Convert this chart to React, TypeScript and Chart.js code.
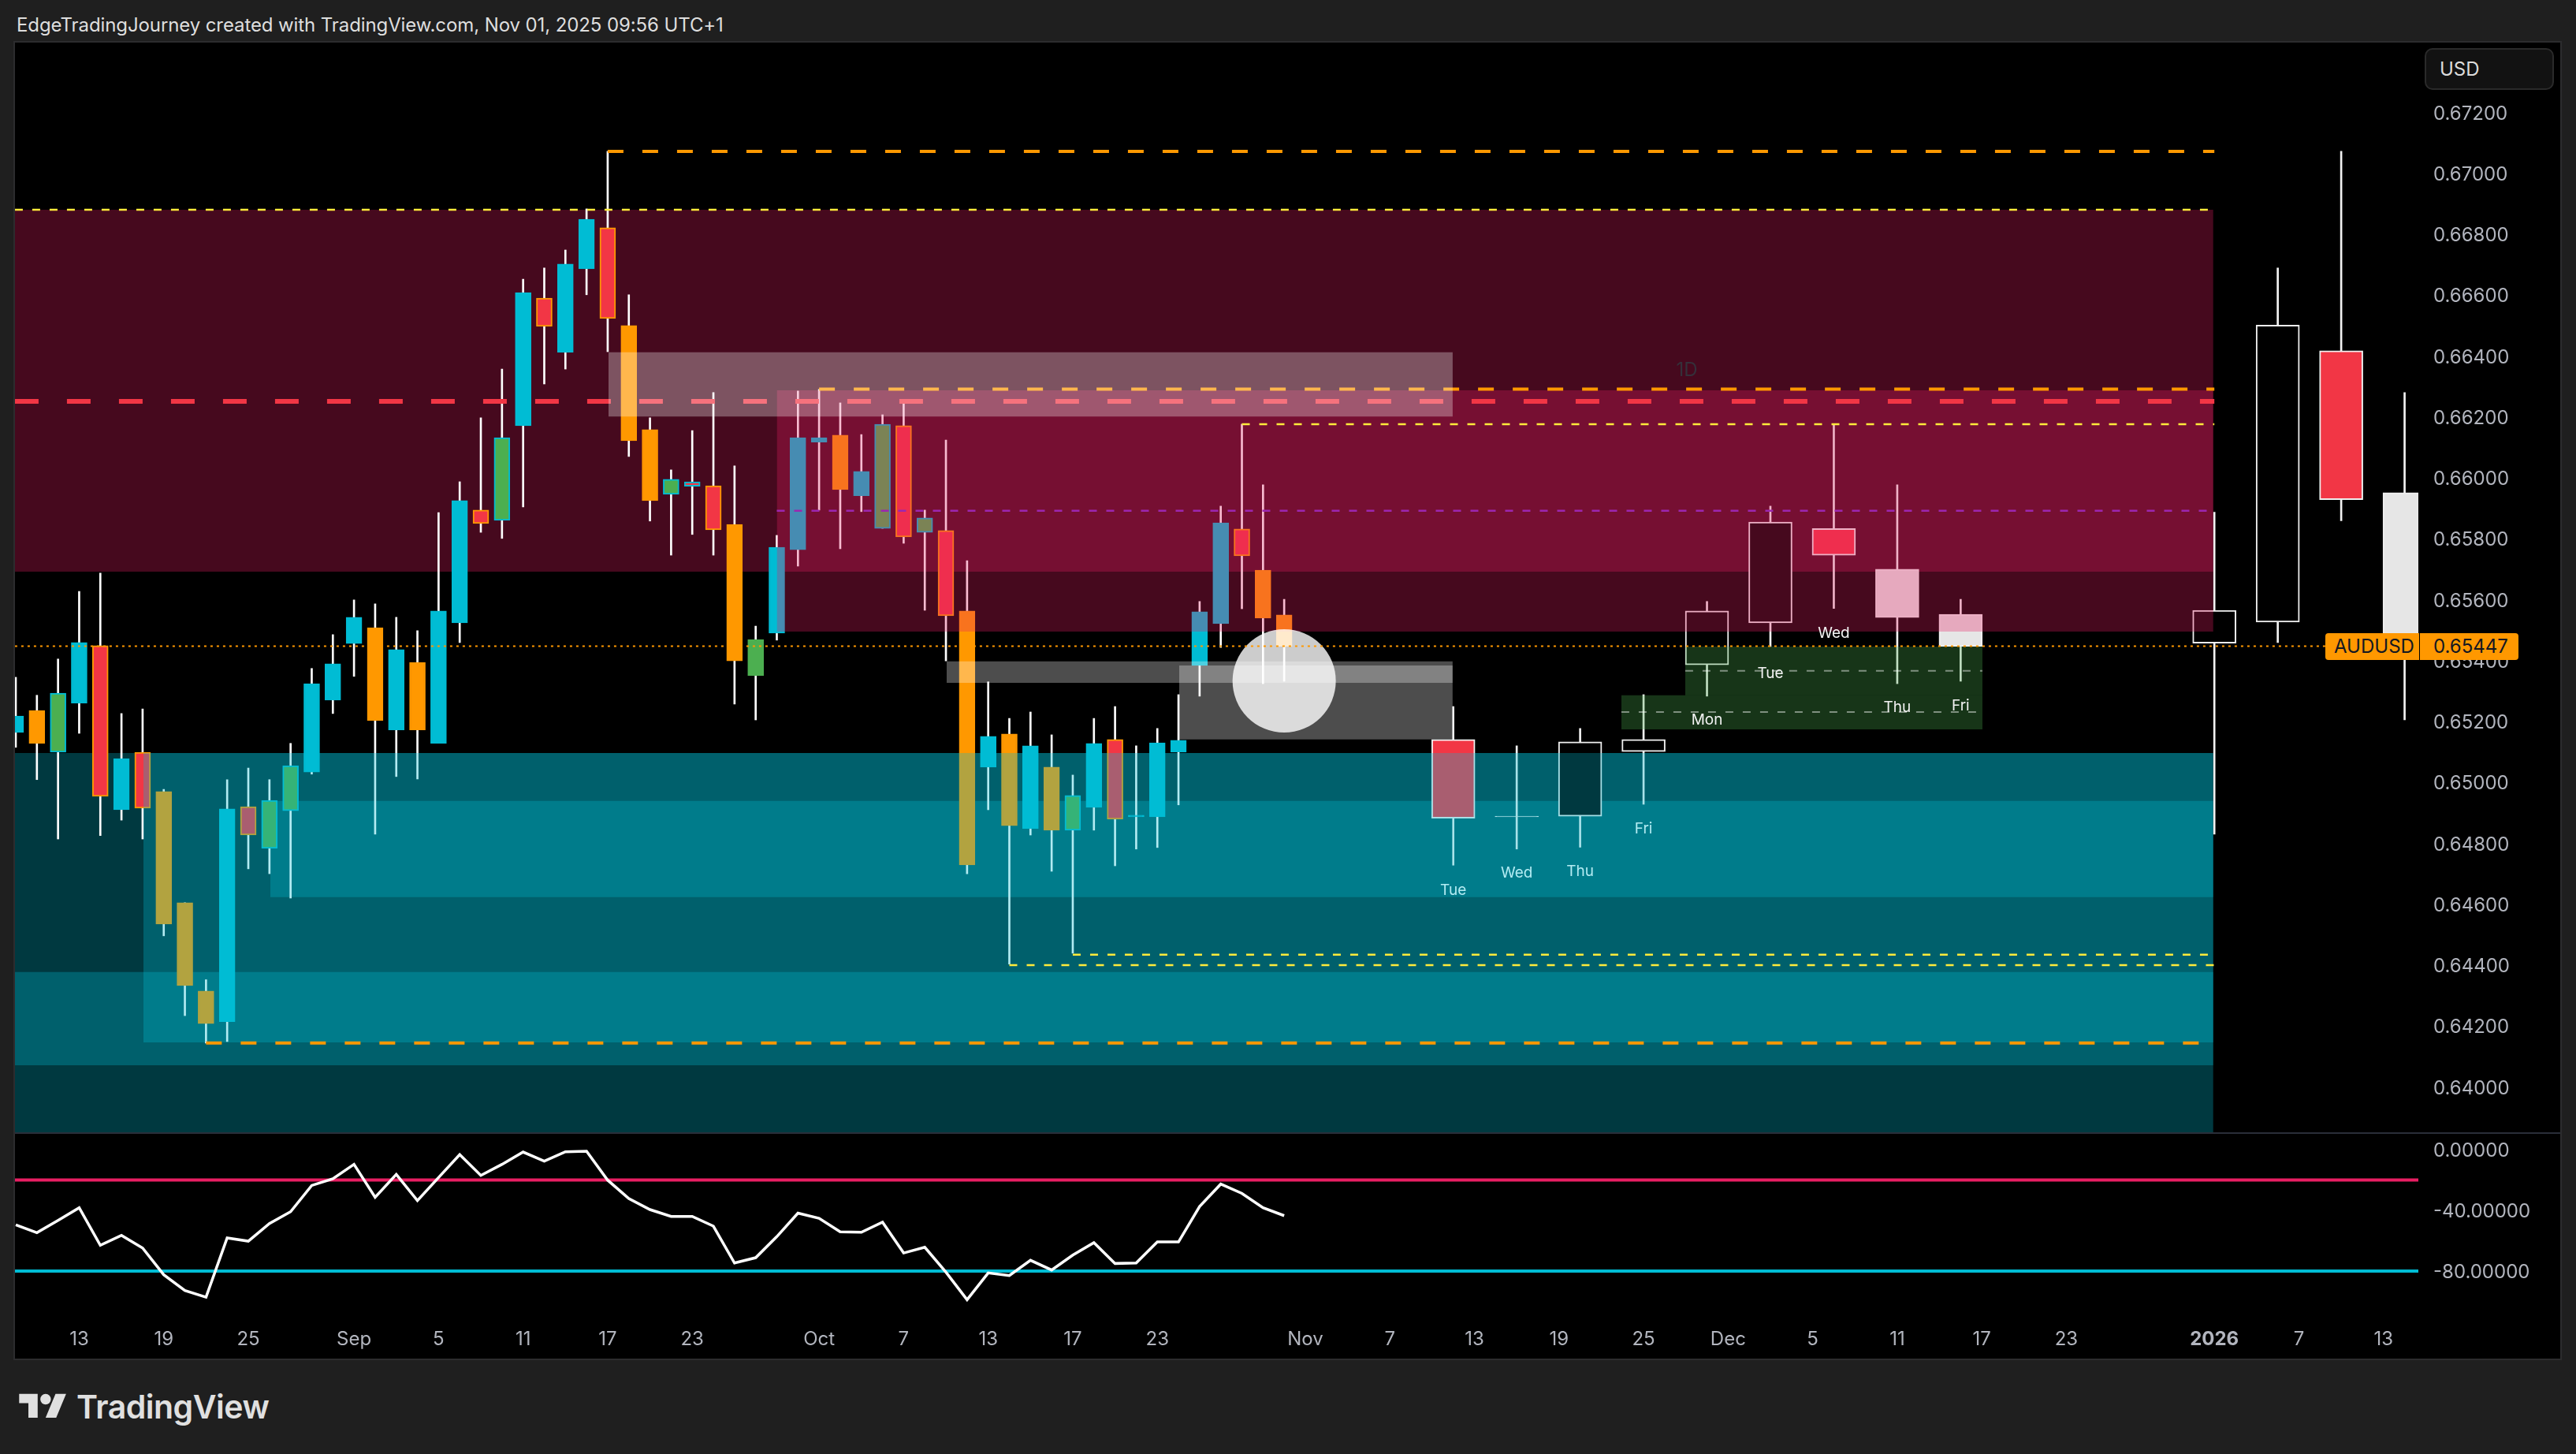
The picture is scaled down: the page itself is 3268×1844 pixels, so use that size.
import { useEffect, useRef } from "react"
import { Chart, registerables } from "chart.js"

Chart.register(...registerables)

const FONT = "Inter"

// daily bars, index 0 is the cut-off bar at the left edge
const kinds = ("cogcrcrooo" + "crggcccoco" + "ccrgcrccro" + "ogXroGccco" + "cgrgrococo" + "gcrcccccroo").split("")
const opens = [0.65164, 0.65236, 0.65099, 0.6526, 0.65449, 0.6491, 0.65099, 0.6497, 0.64605, 0.64315, 0.64214, 0.6492, 0.64783, 0.64907, 0.65034, 0.6527, 0.65456, 0.65508, 0.65172, 0.65394, 0.65128, 0.65524, 0.65894, 0.6586, 0.66171, 0.6659, 0.66412, 0.66686, 0.66821, 0.665, 0.66158, 0.65946, 0.65987, 0.65974, 0.65847, 0.6535, 0.6549, 0.65764, 0.66117, 0.6614, 0.65941, 0.65834, 0.66171, 0.65821, 0.65827, 0.65563, 0.6505, 0.65159, 0.64848, 0.6505, 0.64843, 0.64918, 0.65141, 0.64887, 0.64887, 0.65099, 0.65384, 0.65521, 0.65832, 0.65697, 0.6555]
const closes = [0.65218, 0.65128, 0.65293, 0.65459, 0.64954, 0.65078, 0.64915, 0.64535, 0.64333, 0.64208, 0.64913, 0.64827, 0.64941, 0.65055, 0.65324, 0.65389, 0.65542, 0.65203, 0.65436, 0.65172, 0.65563, 0.65925, 0.6585, 0.66132, 0.66608, 0.66497, 0.66702, 0.66849, 0.66523, 0.66122, 0.65925, 0.65995, 0.65972, 0.65829, 0.65399, 0.65469, 0.65772, 0.66132, 0.66132, 0.65961, 0.66021, 0.66176, 0.65806, 0.65868, 0.65547, 0.64729, 0.65151, 0.64858, 0.6512, 0.64843, 0.64957, 0.65128, 0.64879, 0.64892, 0.6513, 0.65138, 0.6556, 0.65852, 0.65744, 0.65539, 0.65447]
const highs = [0.65345, 0.65286, 0.65405, 0.65627, 0.65687, 0.65226, 0.65241, 0.64977, 0.64605, 0.64352, 0.65009, 0.65047, 0.65009, 0.65128, 0.65374, 0.65485, 0.65599, 0.65586, 0.65542, 0.65498, 0.65886, 0.65987, 0.66197, 0.66357, 0.66652, 0.66689, 0.66748, 0.66883, 0.67072, 0.66601, 0.66197, 0.66026, 0.66155, 0.6628, 0.66039, 0.65513, 0.65811, 0.66285, 0.6629, 0.66246, 0.66142, 0.66207, 0.66246, 0.65894, 0.66124, 0.65728, 0.6533, 0.6521, 0.65231, 0.65156, 0.65024, 0.6521, 0.65249, 0.6512, 0.65177, 0.65288, 0.65594, 0.65907, 0.66176, 0.65977, 0.65601]
const lows = [0.65115, 0.65009, 0.64814, 0.65161, 0.64825, 0.64876, 0.64814, 0.64496, 0.64234, 0.64144, 0.64149, 0.64716, 0.647, 0.6462, 0.65027, 0.65226, 0.65348, 0.6483, 0.65019, 0.65011, 0.65128, 0.65459, 0.65821, 0.65801, 0.65904, 0.66308, 0.66357, 0.66601, 0.66414, 0.6607, 0.65858, 0.65746, 0.65814, 0.65746, 0.65257, 0.65205, 0.65467, 0.6571, 0.65894, 0.65767, 0.65889, 0.65834, 0.65785, 0.65565, 0.65399, 0.647, 0.6491, 0.64403, 0.64827, 0.64708, 0.64439, 0.64843, 0.64726, 0.64781, 0.64786, 0.64926, 0.65283, 0.65443, 0.6557, 0.65324, 0.65332]

// wide projected candles drawn out past the last real bar
const projBars = [68, 71, 74, 77, 80, 83, 86, 89, 92, 104, 107, 110, 113]
const projFills = ["red", "pale", "black", "black", "black", "black", "red", "pale", "pale", "black", "black", "red", "pale"]
const projOpens = [0.65141, 0.64889, 0.64889, 0.65101, 0.65386, 0.65524, 0.65833, 0.657, 0.65552, 0.65457, 0.65526, 0.66417, 0.65951]
const projCloses = [0.64882, 0.64887, 0.65133, 0.65141, 0.65563, 0.65855, 0.65746, 0.65541, 0.65447, 0.65565, 0.66501, 0.65928, 0.65447]
const projHighs = [0.65249, 0.6512, 0.65177, 0.65288, 0.65594, 0.65907, 0.66176, 0.65977, 0.65601, 0.65887, 0.66689, 0.67072, 0.6628]
const projLows = [0.64728, 0.64781, 0.64787, 0.64928, 0.65283, 0.65446, 0.65571, 0.65324, 0.65332, 0.6483, 0.65459, 0.65859, 0.65205]

const dayNames = ["Tue", "Wed", "Thu", "Fri", "Mon", "Tue", "Wed", "Thu", "Fri"]
const dayBars = [68, 71, 74, 77, 80, 83, 86, 89, 92]
const dayPrices = [0.64646, 0.64703, 0.64708, 0.64848, 0.65205, 0.65358, 0.6549, 0.65247, 0.65252]

const rsiValues = [-49.5, -54.7, -46.6, -38.3, -63, -56.5, -64.8, -82.4, -92.8, -97.2, -58.2, -60.3, -48.7, -40.9, -23.6, -19.2, -9.7, -31.4, -16.3, -33.6, -18.4, -3.3, -17, -9.7, -1.6, -7.6, -1.4, -1, -20.1, -32.2, -39.5, -44, -44, -50.4, -74.7, -71.2, -57.3, -41.8, -45.2, -54.2, -54.4, -47.8, -68.1, -64.3, -80.7, -98.9, -81.2, -83, -72.9, -79.3, -69.5, -61.3, -75, -74.7, -60.8, -60.8, -37.4, -22.7, -28.8, -38.3, -43.5]

const priceTicks = [0.64, 0.642, 0.644, 0.646, 0.648, 0.65, 0.652, 0.654, 0.656, 0.658, 0.66, 0.662, 0.664, 0.666, 0.668, 0.67, 0.672]
const rsiTicks = [0, -40, -80]
const timeBars = [3, 7, 11, 16, 20, 24, 28, 32, 38, 42, 46, 50, 54, 61, 65, 69, 73, 77, 81, 85, 89, 93, 97, 104, 108, 112]
const timeLabels = ["13", "19", "25", "Sep", "5", "11", "17", "23", "Oct", "7", "13", "17", "23", "Nov", "7", "13", "19", "25", "Dec", "5", "11", "17", "23", "2026", "7", "13"]

// boxes: first bar, last bar, top price, bottom price
const zonesBelowCandles = [
  { color: "rgba(233,30,99,0.3)", box: [-0.04, 103.95, 0.6688, 0.65692] },
  { color: "rgba(0,188,212,0.3)", box: [-0.04, 103.95, 0.65096, 0.63851] },
  { color: "rgba(0,188,212,0.3)", box: [-0.04, 103.95, 0.64377, 0.64071] },
  { color: "rgba(0,188,212,0.3)", box: [12.04, 103.95, 0.64939, 0.64623] },
]
const zonesOverCandles = [
  { color: "rgba(233,30,99,0.3)", box: [36, 103.95, 0.66287, 0.65495] },
  { color: "rgba(0,188,212,0.3)", box: [6.04, 103.95, 0.65096, 0.64146] },
  { color: "rgba(76,175,80,0.3)", box: [75.95, 93.03, 0.65286, 0.65174] },
  { color: "rgba(76,175,80,0.3)", box: [78.97, 93.03, 0.65446, 0.65286] },
]
const greyBoxes = [
  [28.04, 67.97, 0.66412, 0.66201],
  [44.03, 67.97, 0.65397, 0.65327],
  [55.03, 67.97, 0.65384, 0.65141],
]

// levels: first bar, last bar, price
const orangeLevels = [[28, 104, 0.67072], [38, 104, 0.66291], [9, 104, 0.64144]]
const yellowLevels = [[-0.04, 104, 0.6688], [58, 104, 0.66176], [47, 104, 0.644], [50, 104, 0.64434]]
const redLevel = [-0.04, 104, 0.66251]
const purpleLevel = [36, 104, 0.65892]
const greenLevels = [[78.97, 93.03, 0.65366], [75.95, 93.03, 0.65231]]
const lastPrice = [-0.04, 109.25, 0.65447]
const circleSpot = { x: 60, y: 0.65333, r: 65.5 }
const tfLabel = { text: "1D", bar: 79.05, price: 0.66352 }

const candleFill: Record<string, string> = { c: "#00bcd4", o: "#ff9800", g: "#4caf50", G: "#4caf50", r: "#f23645", X: "#f23645" }
const candleEdge: Record<string, string> = { c: "#00bcd4", o: "#ff9800", g: "#00bcd4", G: "#4caf50", r: "#ff9800", X: "#00bcd4" }
const projFill: Record<string, string> = { red: "#f23645", pale: "#e6e6e6", black: "#000000" }

const xMin = -0.037
const xMax = 113.65

function zone(box: number[], color: string, order: number) {
  return {
    type: "line",
    data: [{ x: box[0], y: box[2] }, { x: box[1], y: box[2] }],
    fill: { value: box[3] },
    backgroundColor: color,
    borderWidth: 0,
    pointRadius: 0,
    order,
  }
}

function level(l: number[], color: string, width: number, dash: number[], order: number) {
  return {
    type: "line",
    data: [{ x: l[0], y: l[2] }, { x: l[1], y: l[2] }],
    borderColor: color,
    borderWidth: width,
    borderDash: dash,
    pointRadius: 0,
    fill: false,
    order,
  }
}

function bars(xs: number[], low: number[], high: number[], thickness: number, fill: any, edge: any, border: number, order: number) {
  return {
    type: "bar",
    data: xs.map((x, i) => ({ x, y: [low[i], high[i]] })),
    barThickness: thickness,
    grouped: false,
    backgroundColor: fill,
    borderColor: edge,
    borderWidth: border,
    borderSkipped: false,
    order,
  }
}

const dayLabelPlugin = {
  id: "dayLabels",
  afterDatasetsDraw(chart: any) {
    const { ctx, scales } = chart
    ctx.save()
    ctx.font = `19px ${FONT}`
    ctx.textAlign = "center"
    ctx.textBaseline = "middle"
    dayNames.forEach((name, i) => {
      ctx.fillStyle = i < 4 ? "#b2ebf2" : "#f2f2f2"
      ctx.fillText(name, scales.x.getPixelForValue(dayBars[i]), scales.y.getPixelForValue(dayPrices[i]))
    })
    ctx.font = `24px ${FONT}`
    ctx.fillStyle = "#35303a"
    ctx.fillText(tfLabel.text, scales.x.getPixelForValue(tfLabel.bar), scales.y.getPixelForValue(tfLabel.price))
    ctx.restore()
  },
}

function noPadding(scale: any) {
  scale.paddingTop = 0
  scale.paddingBottom = 0
  scale.paddingLeft = 0
  scale.paddingRight = 0
}

export default function App() {
  const mainRef = useRef<HTMLCanvasElement>(null)
  const rsiRef = useRef<HTMLCanvasElement>(null)

  useEffect(() => {
    if (!mainRef.current || !rsiRef.current) return
    const barIdx = opens.map((_, i) => i)

    const main = new Chart(mainRef.current, {
      type: "bar",
      data: {
        datasets: [
          ...zonesBelowCandles.map((z) => zone(z.box, z.color, 100)),
          bars(barIdx, lows, highs, 2, "#ffffff", "#ffffff", 0, 50),
          bars(projBars, projLows, projHighs, 2, "#f2f2f2", "#f2f2f2", 0, 50),
          bars(barIdx, opens, closes, 20, kinds.map((k) => candleFill[k]), kinds.map((k) => candleEdge[k]), 2, 40),
          bars(projBars, projOpens, projCloses, 55, projFills.map((k) => projFill[k]), "#f0f0f0", 2, 40),
          ...zonesOverCandles.map((z) => zone(z.box, z.color, 30)),
          level(redLevel, "#f23645", 6, [30, 36], 25),
          ...orangeLevels.map((l) => level(l, "#ff9800", 4, [20, 24], 25)),
          ...yellowLevels.map((l) => level(l, "#ffeb3b", 2.5, [10, 12], 25)),
          level(purpleLevel, "#9c27b0", 2.5, [10, 12], 25),
          ...greenLevels.map((l) => level(l, "rgba(255,255,255,0.45)", 2, [10, 12], 25)),
          ...greyBoxes.map((b) => zone(b, "rgba(255,255,255,0.3)", 20)),
          {
            type: "bubble",
            data: [circleSpot],
            backgroundColor: "rgba(255,255,255,0.8)",
            borderWidth: 0,
            order: 15,
          },
          level(lastPrice, "#ff9800", 2, [3, 5], 10),
        ] as any,
      },
      options: {
        responsive: false,
        animation: false,
        layout: { padding: 0, autoPadding: false },
        plugins: { legend: { display: false }, tooltip: { enabled: false } },
        scales: {
          x: { type: "linear", min: xMin, max: xMax, offset: false, display: false, grid: { display: false } },
          y: {
            position: "right",
            min: 0.63851,
            max: 0.67429,
            grid: { display: false, drawTicks: false },
            border: { display: false },
            afterBuildTicks: (scale: any) => {
              scale.ticks = priceTicks.map((value) => ({ value }))
            },
            afterFit: (scale: any) => {
              scale.width = 180
              noPadding(scale)
            },
            ticks: {
              autoSkip: false,
              crossAlign: "near",
              padding: 19,
              labelOffset: 2,
              color: "#b2b5be",
              font: { family: FONT, size: 24 },
              callback: (v: any) => Number(v).toFixed(5),
            },
          },
        },
      } as any,
      plugins: [dayLabelPlugin],
    })

    const rsi = new Chart(rsiRef.current, {
      type: "line",
      data: {
        datasets: [
          {
            data: rsiValues.map((y, x) => ({ x, y })),
            borderColor: "#ffffff",
            borderWidth: 3.5,
            pointRadius: 0,
            tension: 0,
            order: 1,
          },
          {
            data: [{ x: xMin, y: -20 }, { x: xMax, y: -20 }],
            borderColor: "#e91e63",
            borderWidth: 4,
            pointRadius: 0,
            order: 2,
          },
          {
            data: [{ x: xMin, y: -80 }, { x: xMax, y: -80 }],
            borderColor: "#00bcd4",
            borderWidth: 4,
            pointRadius: 0,
            order: 2,
          },
        ],
      },
      options: {
        responsive: false,
        animation: false,
        layout: { padding: 0, autoPadding: false },
        plugins: { legend: { display: false }, tooltip: { enabled: false } },
        scales: {
          x: {
            type: "linear",
            min: xMin,
            max: xMax,
            grid: { display: false, drawTicks: false },
            border: { display: false },
            afterBuildTicks: (scale: any) => {
              scale.ticks = timeBars.map((value) => ({ value }))
            },
            afterFit: (scale: any) => {
              scale.height = 51
              noPadding(scale)
            },
            ticks: {
              autoSkip: false,
              maxRotation: 0,
              padding: 12,
              color: "#b2b5be",
              font: (ctx: any) => ({
                family: FONT,
                size: 24,
                weight: ctx.tick && ctx.tick.value === 104 ? 700 : 400,
              }),
              callback: (v: any) => timeLabels[timeBars.indexOf(v)],
            },
          },
          y: {
            position: "right",
            min: -111.17,
            max: 10.39,
            grid: { display: false, drawTicks: false },
            border: { display: false },
            afterBuildTicks: (scale: any) => {
              scale.ticks = rsiTicks.map((value) => ({ value }))
            },
            afterFit: (scale: any) => {
              scale.width = 180
              noPadding(scale)
            },
            ticks: {
              autoSkip: false,
              crossAlign: "near",
              padding: 19,
              labelOffset: 2,
              color: "#b2b5be",
              font: { family: FONT, size: 24 },
              callback: (v: any) => Number(v).toFixed(5),
            },
          },
        },
      } as any,
    })

    return () => {
      main.destroy()
      rsi.destroy()
    }
  }, [])

  const abs = (left: number, top: number, width: number, height: number) =>
    ({ position: "absolute", left, top, width, height } as const)

  return (
    <div style={{ ...abs(0, 0, 3268, 1844), background: "#1f1f1f", overflow: "hidden", fontFamily: FONT }}>
      <div style={{ position: "absolute", left: 21, top: 17, fontSize: 24, lineHeight: "30px", color: "#dedede", whiteSpace: "nowrap", letterSpacing: -0.1 }}>
        EdgeTradingJourney created with TradingView.com, Nov 01, 2025 09:56 UTC+1
      </div>

      <div style={{ ...abs(17, 52, 3233, 1673), background: "#2c2c2e" }} />
      <canvas ref={mainRef} width={3229} height={1382} style={{ ...abs(19, 54, 3229, 1382), background: "#000" }} />
      <div style={{ ...abs(19, 1436, 3229, 2), background: "#2a2e39" }} />
      <canvas ref={rsiRef} width={3229} height={285} style={{ ...abs(19, 1438, 3229, 285), background: "#000" }} />

      <div style={{ ...abs(3076, 61, 164, 53), boxSizing: "border-box", background: "#121212", border: "2px solid #2a2a2a", borderRadius: 10, color: "#dcdcdc", fontSize: 24, lineHeight: "49px", paddingLeft: 17 }}>
        USD
      </div>

      <div style={{ ...abs(2950, 803, 119, 34), background: "#ff9800", borderRadius: "4px 0 0 4px", color: "#131722", fontSize: 24, lineHeight: "34px", paddingLeft: 11, boxSizing: "border-box" }}>
        AUDUSD
      </div>
      <div style={{ ...abs(3070, 803, 125, 34), background: "#ff9800", borderRadius: "0 4px 4px 0", color: "#131722", fontSize: 24, lineHeight: "34px", paddingLeft: 17, boxSizing: "border-box" }}>
        0.65447
      </div>

      <svg viewBox="0 0 36 28" style={abs(24, 1761, 61, 47)} fill="#e0e0e0">
        <path d="M14 22H7V11H0V4h14v18zM28 22h-8l7.5-18h8L28 22z" />
        <circle cx="20" cy="8" r="4" />
      </svg>
      <div style={{ position: "absolute", left: 97, top: 1759, fontSize: 41, fontWeight: 600, lineHeight: "50px", color: "#e0e0e0", letterSpacing: -0.5 }}>
        TradingView
      </div>
    </div>
  )
}
